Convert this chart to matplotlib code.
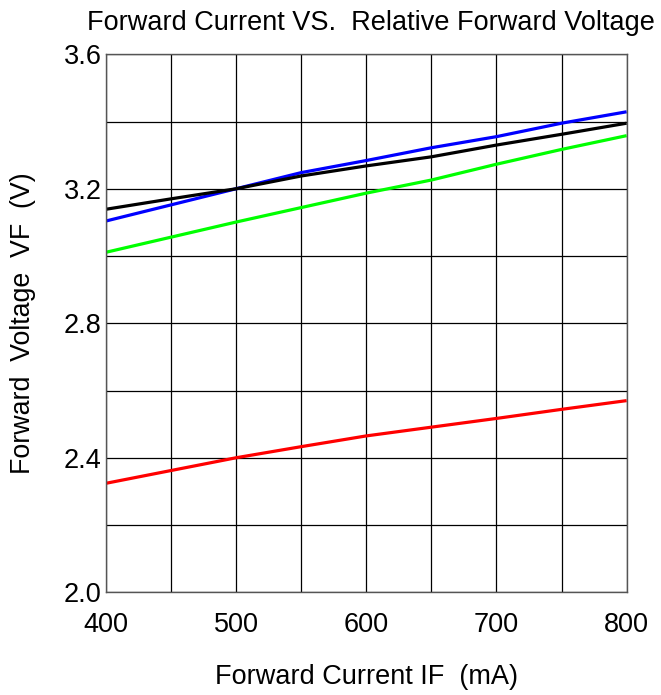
import matplotlib
matplotlib.use("Agg")
import matplotlib.pyplot as plt
from matplotlib.ticker import MultipleLocator

plt.rcParams['font.family'] = ['Liberation Sans', 'DejaVu Sans']

current = [400, 450, 500, 550, 600, 650, 700, 750, 800]
blue_vf = [3.104, 3.152, 3.200, 3.248, 3.284, 3.322, 3.355, 3.395, 3.429]
black_vf = [3.139, 3.170, 3.200, 3.238, 3.268, 3.295, 3.330, 3.362, 3.395]
green_vf = [3.011, 3.056, 3.101, 3.144, 3.187, 3.226, 3.273, 3.317, 3.358]
red_vf = [2.324, 2.362, 2.400, 2.433, 2.465, 2.491, 2.517, 2.544, 2.570]

x_ticks = [400, 500, 600, 700, 800]
y_ticks = [2.0, 2.4, 2.8, 3.2, 3.6]

fig = plt.figure(figsize=(6.61, 6.95), dpi=100)
ax = fig.add_axes([0.16, 0.1478, 0.788, 0.7741])

ax.plot(current, blue_vf, color='#0000ff', lw=2.3, solid_capstyle='butt')
ax.plot(current, black_vf, color='#000000', lw=2.3, solid_capstyle='butt')
ax.plot(current, green_vf, color='#00ff00', lw=2.3, solid_capstyle='butt')
ax.plot(current, red_vf, color='#ff0000', lw=2.3, solid_capstyle='butt')

ax.set_xlim(400, 800)
ax.set_ylim(2.0, 3.6)
ax.set_xticks(x_ticks)
ax.set_yticks(y_ticks)
ax.set_yticklabels([f"{v:.1f}" for v in y_ticks])
ax.xaxis.set_minor_locator(MultipleLocator(50))
ax.yaxis.set_minor_locator(MultipleLocator(0.2))
ax.grid(True, which='both', color='black', lw=0.9)
ax.set_axisbelow(True)
ax.tick_params(which='both', length=0)
ax.tick_params(axis='x', labelsize=19.5, pad=14)
ax.tick_params(axis='y', labelsize=19.5, pad=3)
for s in ax.spines.values():
    s.set_color('#555555')
    s.set_linewidth(1.0)

ax.set_xlabel('Forward Current IF  (mA)', fontsize=19.5, va='center')
ax.xaxis.set_label_coords(0.5, -0.157)
ax.set_ylabel('Forward  Voltage  VF  (V)', fontsize=19.3, va='center')
ax.yaxis.set_label_coords(-0.1587, 0.5)
fig.text(0.561, 0.967, 'Forward Current VS.  Relative Forward Voltage', fontsize=19.5,
         ha='center', va='center')

fig.savefig('out.png', dpi=100)
